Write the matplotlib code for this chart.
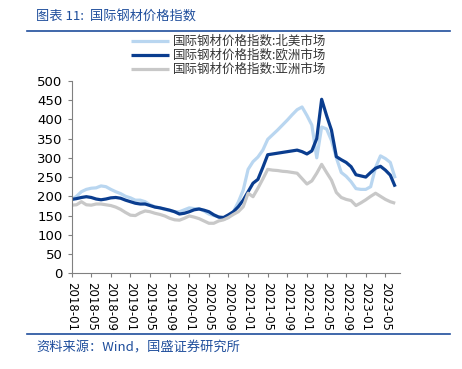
import numpy as np
import matplotlib
matplotlib.use('Agg')
import matplotlib.pyplot as plt

plt.rcParams['font.family'] = ['DejaVu Sans', 'Noto Sans CJK SC']

# monthly index values, 2018-01 .. 2023-07
months = [f'{2018 + i // 12}-{i % 12 + 1:02d}' for i in range(67)]

north_america = [192, 200, 212, 218, 221, 222, 227, 225, 218, 212, 207, 200, 196, 190, 190, 186,
                 178, 173, 170, 166, 163, 160, 160, 165, 170, 168, 168, 162, 154, 150, 147, 140,
                 145, 160, 185, 216, 270, 290, 302, 320, 348, 360, 372, 385, 398, 412, 425, 432,
                 410, 385, 300, 380, 375, 345, 300, 262, 252, 238, 220, 218, 218, 225, 275, 305,
                 298, 288, 247]
europe = [192, 194, 197, 199, 197, 193, 191, 193, 196, 197, 195, 190, 186, 182, 180, 180,
          176, 172, 170, 167, 164, 160, 154, 156, 160, 165, 167, 164, 160, 152, 146, 145,
          152, 160, 173, 190, 212, 234, 244, 275, 308, 310, 312, 314, 316, 318, 320, 316,
          310, 318, 350, 452, 410, 372, 303, 295, 288, 277, 256, 253, 250, 262, 273, 278,
          268, 255, 225]
asia = [177, 178, 186, 178, 177, 180, 180, 178, 176, 172, 166, 158, 151, 150, 157, 162,
        160, 156, 153, 149, 143, 139, 138, 143, 149, 146, 142, 136, 130, 130, 136, 139,
        145, 153, 160, 173, 208, 199, 221, 245, 270, 268, 267, 265, 264, 262, 260, 246,
        232, 240, 260, 283, 262, 242, 210, 197, 192, 189, 176, 183, 191, 200, 208, 200,
        192, 186, 182]

labels = ['国际钢材价格指数:北美市场', '国际钢材价格指数:欧洲市场', '国际钢材价格指数:亚洲市场']
colors = ['#b9d6f0', '#0a3d8f', '#c8c8c8']

blue = '#1f4e9c'
cjk = ['Noto Sans CJK SC', 'DejaVu Sans']

fig = plt.figure(figsize=(4.62, 3.69), dpi=100)
ax = fig.add_axes([0.155, 0.2593, 0.711, 0.5217])

x = np.arange(len(months))
for vals, lab, c in zip([north_america, europe, asia], labels, colors):
    ax.plot(x, vals, color=c, lw=2.3, label=lab, solid_capstyle='butt')

ax.set_xlim(0, 67)
ax.set_ylim(0, 500)
ax.set_yticks(range(0, 501, 50))
ax.set_xticks(x[::4])
ax.set_xticklabels(months[::4], rotation=270, fontsize=8.5)
ax.tick_params(axis='y', labelsize=9.5, length=3, color='#808080')
ax.tick_params(axis='x', length=3, color='#808080', pad=3)
for s in ['top', 'right']:
    ax.spines[s].set_visible(False)
for s in ['left', 'bottom']:
    ax.spines[s].set_color('#808080')

leg = ax.legend(loc='upper left', bbox_to_anchor=(133 / 462 - 0.025, 1 - 25 / 369),
                bbox_transform=fig.transFigure, frameon=False,
                prop={'family': cjk, 'size': 9}, handlelength=3.0,
                handletextpad=0.3, labelspacing=0.08, borderpad=0.3)
for t in leg.get_texts():
    t.set_color('#333333')

# header and footer
fig.text(36 / 462, 1 - 17 / 369, '图表 11:  国际钢材价格指数', color=blue, fontsize=9.5,
         family=cjk, style='italic', va='center')
fig.add_artist(plt.Line2D([27 / 462, 450 / 462], [1 - 31 / 369] * 2, color=blue, lw=1.2))
fig.add_artist(plt.Line2D([27 / 462, 450 / 462], [1 - 334 / 369] * 2, color=blue, lw=1.2))
fig.text(36 / 462, 1 - 348 / 369, '资料来源：Wind，国盛证券研究所', color=blue, fontsize=9.5,
         family=cjk, style='italic', va='center')

fig.savefig('out.png', dpi=100)
